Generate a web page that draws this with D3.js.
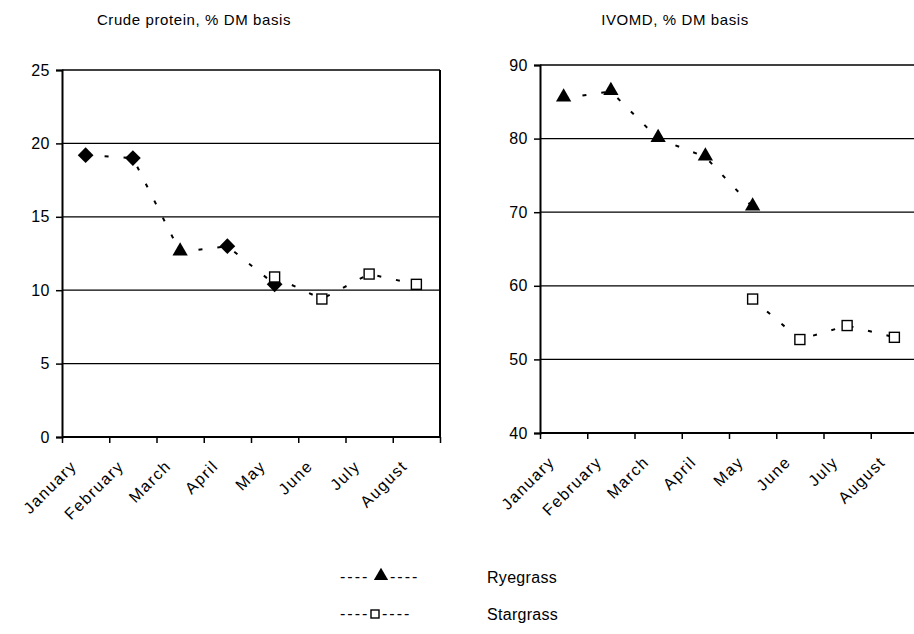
<html>
  <script src="https://cdnjs.cloudflare.com/ajax/libs/d3/7.8.5/d3.min.js"></script>
  <style>
    html, body {
      margin: 0px;
      padding: 0px;
      background: #fff;
    }
    svg text {
      font-family: Arial, "Liberation Sans", sans-serif;
      fill: #000;
    }
  </style>
  <body>
    <svg id="chart" width="914" height="634"></svg>
    <script>
      var months = ["January", "February", "March", "April", "May", "June", "July", "August"];

      // crude protein, % DM
      var cpRye = [19.2, 19.0, 12.6, 13.0, 10.4, null, null, null];
      var cpStar = [null, null, null, null, 10.9, 9.4, 11.1, 10.4];
      // IVOMD, % DM
      var ivRye = [85.5, 86.4, 80.0, 77.5, 70.7, null, null, null];
      var ivStar = [null, null, null, null, 58.2, 52.7, 54.6, 53.0];

      var cpTicks = [0, 5, 10, 15, 20, 25];
      var ivTicks = [40, 50, 60, 70, 80, 90];

      // marker used for each ryegrass point of the left chart
      var cpRyeMarks = ["diamond", "diamond", "triangle", "diamond", "diamond"];

      var svg = d3.select("#chart");

      function marker(g, kind, x, y, s) {
        if (kind == "diamond") {
          g.append("path")
            .attr("d", d3.symbol().type(d3.symbolSquare).size(s * s * 0.55)())
            .attr("transform", "translate(" + x + "," + y + ") rotate(45)")
            .attr("fill", "#000");
        } else if (kind == "triangle") {
          g.append("path")
            .attr("d", d3.symbol().type(d3.symbolTriangle).size(s * s * 0.45)())
            .attr("transform", "translate(" + x + "," + (y - 1) + ")")
            .attr("fill", "#000");
        } else {
          g.append("rect")
            .attr("x", x - s / 2).attr("y", y - s / 2)
            .attr("width", s).attr("height", s)
            .attr("fill", "#fff").attr("stroke", "#000").attr("stroke-width", 1.4);
        }
      }

      function panel(opt) {
        var g = svg.append("g");
        var x = d3.scaleBand().domain(months).range([opt.x0, opt.x1]);
        var xb = d3.scaleLinear().domain([0, months.length]).range([opt.x0, opt.x1]);
        var y = d3.scaleLinear().domain([opt.ticks[0], opt.ticks[opt.ticks.length - 1]]).range([opt.y1, opt.y0]);

        g.append("text")
          .attr("x", opt.tx).attr("y", 25)
          .attr("text-anchor", "middle")
          .style("font-size", "15px")
          .style("letter-spacing", "0.6px")
          .text(opt.title);

        // gridlines
        g.selectAll(".grid").data(opt.ticks.slice(1)).enter()
          .append("line")
          .attr("x1", opt.x0).attr("x2", opt.x1)
          .attr("y1", d => y(d)).attr("y2", d => y(d))
          .attr("stroke", "#000").attr("stroke-width", 1.3);

        if (opt.border) {
          g.append("line")
            .attr("x1", opt.x1).attr("x2", opt.x1)
            .attr("y1", opt.y0).attr("y2", opt.y1)
            .attr("stroke", "#000").attr("stroke-width", 2);
        }

        // y axis
        var ya = g.append("g")
          .attr("transform", "translate(" + opt.x0 + ",0)")
          .call(d3.axisLeft(y).tickValues(opt.ticks).tickSize(6).tickPadding(6));
        ya.select(".domain").attr("stroke-width", 2);
        ya.selectAll(".tick line").attr("stroke-width", 1.5);
        ya.selectAll("text").style("font-size", "16px").style("letter-spacing", "0.5px").attr("font-family", null);

        // x axis, ticks between categories
        var xa = g.append("g")
          .attr("transform", "translate(0," + opt.y1 + ")")
          .call(d3.axisBottom(xb).tickValues(d3.range(months.length + 1)).tickSize(6).tickFormat(""));
        xa.select(".domain").attr("stroke-width", 2).attr("d", "M" + opt.x0 + ",0H" + opt.x1);
        xa.selectAll(".tick line").attr("stroke-width", 1.5);

        g.selectAll(".xl").data(months).enter()
          .append("text")
          .attr("text-anchor", "end")
          .style("font-size", "16px")
          .style("letter-spacing", "1.5px")
          .attr("transform", d => "translate(" + (x(d) + x.bandwidth() / 2 - 8) + "," + (opt.y1 + 30) + ") rotate(-45)")
          .text(d => d);

        var line = d3.line()
          .defined(d => d != null)
          .x((d, i) => x(months[i]) + x.bandwidth() / 2)
          .y(d => y(d));

        [opt.rye, opt.star].forEach(function(s) {
          g.append("path")
            .attr("d", line(s))
            .attr("fill", "none")
            .attr("stroke", "#000")
            .attr("stroke-width", 2)
            .attr("stroke-dasharray", "4,15");
        });

        opt.rye.forEach(function(v, i) {
          if (v == null) return;
          marker(g, opt.ryeMarks ? opt.ryeMarks[i] : "triangle", x(months[i]) + x.bandwidth() / 2, y(v), 15);
        });
        opt.star.forEach(function(v, i) {
          if (v == null) return;
          marker(g, "square", x(months[i]) + x.bandwidth() / 2, y(v), 10);
        });
      }

      panel({ title: "Crude protein, % DM basis", tx: 194, x0: 62, x1: 440, y0: 70, y1: 437,
              ticks: cpTicks, rye: cpRye, star: cpStar, ryeMarks: cpRyeMarks, border: true });
      panel({ title: "IVOMD, % DM basis", tx: 675, x0: 540, x1: 918, y0: 65, y1: 433,
              ticks: ivTicks, rye: ivRye, star: ivStar, border: false });

      // legend
      var lg = svg.append("g");
      var rows = [
        { name: "Ryegrass", kind: "triangle", y: 577, mx: 381, d2: 390 },
        { name: "Stargrass", kind: "square", y: 614, mx: 375, d2: 382 }
      ];
      rows.forEach(function(r) {
        lg.append("text").attr("x", 340).attr("y", r.y + 5).style("font-size", "16px").style("letter-spacing", "2px").text("----");
        lg.append("text").attr("x", r.d2).attr("y", r.y + 5).style("font-size", "16px").style("letter-spacing", "2px").text("----");
        marker(lg, r.kind, r.mx, r.y, r.kind == "square" ? 8 : 14);
        lg.append("text").attr("x", 487).attr("y", r.y + 6).style("font-size", "16px").style("letter-spacing", "0.3px").text(r.name);
      });
    </script>
  </body>
</html>
